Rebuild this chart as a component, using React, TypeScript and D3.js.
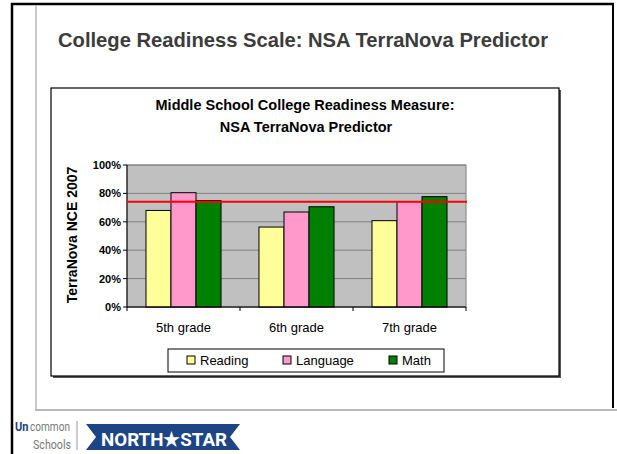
import React from 'react';
import * as d3 from 'd3';

// chart values
const categories = ['5th grade', '6th grade', '7th grade'];
const seriesNames = ['Reading', 'Language', 'Math'];
const reading = [0.68, 0.563, 0.608];
const language = [0.805, 0.669, 0.742];
const math = [0.749, 0.706, 0.777];
const targetLine = 0.742;
const yTicks = [0, 0.2, 0.4, 0.6, 0.8, 1];

const seriesColors = ['#FFFF99', '#FF99CC', '#008000'];
const font = 'Liberation Sans, Arial, sans-serif';
const narrow = 'Liberation Sans Narrow, Arial Narrow, Roboto, sans-serif';

const plot = { left: 127, right: 466, top: 165, bottom: 307 };

export default function App() {
  const values = [reading, language, math];

  const x = d3
    .scaleBand<string>()
    .domain(categories)
    .range([plot.left, plot.right])
    .paddingInner(0.336)
    .paddingOuter(0.168);

  const xSeries = d3
    .scaleBand<string>()
    .domain(seriesNames)
    .range([0, x.bandwidth()]);

  const y = d3.scaleLinear().domain([0, 1]).range([plot.bottom, plot.top]);
  const fmt = d3.format('.0%');

  const gap = (x.step() - x.bandwidth()) / 2;
  const catTicks = categories.map((c) => (x(c) as number) - gap);
  catTicks.push(plot.right);

  const legendX = [187, 283, 389];

  return (
    <svg
      width={617}
      height={454}
      style={{ position: 'absolute', left: 0, top: 0, background: '#fff' }}
      fontFamily={font}
    >
      {/* slide frame */}
      <line x1={12} y1={3} x2={12} y2={454} stroke="#000" strokeWidth={2.5} />
      <line x1={11} y1={4} x2={614} y2={4} stroke="#000" strokeWidth={2.5} />
      <line x1={613} y1={3} x2={613} y2={408} stroke="#000" strokeWidth={2} />
      <line x1={36} y1={5} x2={36} y2={410} stroke="#b8b8b8" strokeWidth={1.5} />
      <line x1={35} y1={410} x2={617} y2={410} stroke="#b8b8b8" strokeWidth={2} />

      <text x={58} y={47} fontSize={20.5} fontWeight="bold" fill="#3c3c3c" textLength={490} lengthAdjust="spacingAndGlyphs">
        College Readiness Scale: NSA TerraNova Predictor
      </text>

      {/* chart box */}
      <rect x={53} y={90} width={508} height={288} fill="#555" />
      <rect x={51} y={88} width={508} height={288} fill="#fff" stroke="#000" strokeWidth={1.2} />

      <text x={305} y={110} fontSize={14.5} fontWeight="bold" textAnchor="middle">
        Middle School College Readiness Measure:
      </text>
      <text x={306} y={132} fontSize={14.5} fontWeight="bold" textAnchor="middle">
        NSA TerraNova Predictor
      </text>

      {/* plot area */}
      <rect
        x={plot.left}
        y={plot.top}
        width={plot.right - plot.left}
        height={plot.bottom - plot.top}
        fill="#C0C0C0"
        stroke="#808080"
        strokeWidth={1}
      />
      {yTicks.map((t) => (
        <g key={t}>
          <line x1={plot.left} x2={plot.right} y1={y(t)} y2={y(t)} stroke="#808080" strokeWidth={1} />
          <line x1={plot.left - 4} x2={plot.left} y1={y(t)} y2={y(t)} stroke="#000" />
          <text x={plot.left - 6} y={y(t) + 4} fontSize={11} fontWeight="bold" textAnchor="end">
            {fmt(t)}
          </text>
        </g>
      ))}

      {categories.map((c, i) => (
        <g key={c}>
          {values.map((v, s) => (
            <rect
              key={s}
              x={(x(c) as number) + (xSeries(seriesNames[s]) as number)}
              y={y(v[i])}
              width={xSeries.bandwidth()}
              height={plot.bottom - y(v[i])}
              fill={seriesColors[s]}
              stroke="#000"
              strokeWidth={1}
            />
          ))}
          <text x={(x(c) as number) + x.bandwidth() / 2} y={332} fontSize={13} textAnchor="middle">
            {c}
          </text>
        </g>
      ))}

      {/* axes */}
      <line x1={plot.left} x2={plot.left} y1={plot.top} y2={plot.bottom} stroke="#000" />
      <line x1={plot.left} x2={plot.right} y1={plot.bottom} y2={plot.bottom} stroke="#000" />
      {catTicks.map((t, i) => (
        <line key={i} x1={t} x2={t} y1={plot.bottom} y2={plot.bottom + 4} stroke="#000" />
      ))}

      {/* target line */}
      <line
        x1={plot.left}
        x2={plot.right + 1}
        y1={y(targetLine)}
        y2={y(targetLine)}
        stroke="#FF0000"
        strokeWidth={2}
      />

      <text
        transform={`translate(77,235) rotate(-90)`}
        fontSize={14}
        fontWeight="bold"
        textAnchor="middle"
      >
        TerraNova NCE 2007
      </text>

      {/* legend */}
      <rect x={168} y={349} width={276} height={23} fill="#fff" stroke="#000" strokeWidth={1} />
      {seriesNames.map((s, i) => (
        <g key={s}>
          <rect x={legendX[i]} y={356} width={8} height={8} fill={seriesColors[i]} stroke="#000" strokeWidth={1} />
          <text x={legendX[i] + 13} y={365} fontSize={13}>
            {s}
          </text>
        </g>
      ))}

      {/* logo */}
      <text x={15} y={431} fontSize={13} fill="#1f3f7a" fontWeight="bold" fontFamily={narrow} textLength={13.5} lengthAdjust="spacingAndGlyphs">
        Un
      </text>
      <text x={30} y={431} fontSize={13} fill="#7a7a7a" fontFamily={narrow} textLength={40} lengthAdjust="spacingAndGlyphs">
        common
      </text>
      <text x={71} y={449} fontSize={13} fill="#7a7a7a" textAnchor="end" fontFamily={narrow} textLength={38} lengthAdjust="spacingAndGlyphs">
        Schools
      </text>
      <line x1={77} x2={77} y1={421} y2={450} stroke="#999" strokeWidth={1} />
      <path d="M86,424 L240,424 L230,437 L240,450 L86,450 L96,437 Z" fill="#1d4484" />
      <text x={164} y={445.5} fontSize={19} fontWeight="bold" fill="#fff" textAnchor="middle" fontFamily={narrow} textLength={126} lengthAdjust="spacingAndGlyphs">
        NORTH★STAR
      </text>
    </svg>
  );
}
